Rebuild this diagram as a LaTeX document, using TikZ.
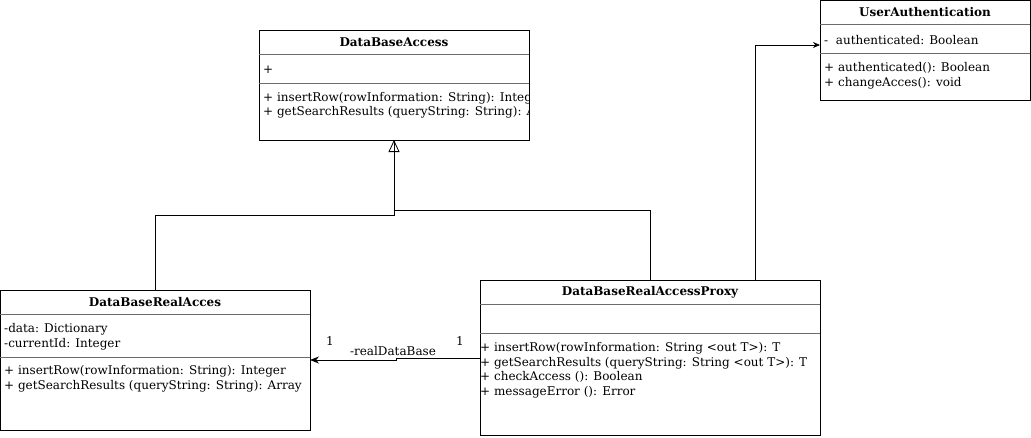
\documentclass[tikz,border=0pt]{standalone}
\usepackage{fontspec}
\setmainfont{DejaVu Serif}
\usetikzlibrary{arrows.meta,calc}
\begin{document}
\begin{tikzpicture}[x=1pt,y=-1pt,
  cls/.style={draw=black,line width=0.8pt,fill=white,anchor=north west,inner sep=0pt,outer sep=0pt},
  sep/.style={draw=gray!85!black,line width=0.8pt},
  ttl/.style={font=\fontsize{12}{14.5}\selectfont\bfseries,inner sep=0pt},
  txt/.style={font=\fontsize{12}{14.5}\selectfont,inner sep=0pt,anchor=west,align=left},
  lbl/.style={font=\fontsize{12}{14.5}\selectfont,inner sep=0pt},
  con/.style={draw=black,line width=0.8pt}]
\useasboundingbox (0,0) rectangle (1031,437);
\fill[white] (0,0) rectangle (1031,437);

% DataBaseAccess
\node[cls,minimum width=270pt,minimum height=110pt] (dba) at (259,30) {};
\draw[sep] (259,54) -- (529,54);
\draw[sep] (259,83) -- (529,83);
\node[ttl] (dbat) at (394,42) {DataBaseAccess};
\begin{scope}
\clip (259,30) rectangle (529,140);
\node[txt] (dbaa) at (263,70) {+};
\node[txt] (dbam) at (263,105.5) {+ insertRow(rowInformation: String): Integer\\+ getSearchResults (queryString: String): Array};
\end{scope}

% UserAuthentication
\node[cls,minimum width=210pt,minimum height=100pt] (ua) at (820,0) {};
\draw[sep] (820,24) -- (1030,24);
\draw[sep] (820,53) -- (1030,53);
\node[ttl] (uat) at (925,12) {UserAuthentication};
\node[txt] (uaa) at (824,40) {-\ \ authenticated: Boolean};
\node[txt] (uam) at (824,76) {+ authenticated(): Boolean\\+ changeAcces(): void};

% DataBaseRealAcces
\node[cls,minimum width=310pt,minimum height=140pt] (dbr) at (0,290) {};
\draw[sep] (0,314) -- (310,314);
\draw[sep] (0,357) -- (310,357);
\node[ttl] (dbrt) at (155,302) {DataBaseRealAcces};
\node[txt] (dbra) at (4,337) {-data: Dictionary\\-currentId: Integer};
\node[txt] (dbrm) at (4,379) {+ insertRow(rowInformation: String): Integer\\+ getSearchResults (queryString: String): Array};

% DataBaseRealAccessProxy
\node[cls,minimum width=340pt,minimum height=155pt] (prx) at (480,280) {};
\draw[sep] (480,304) -- (820,304);
\draw[sep] (480,333) -- (820,333);
\node[ttl] (prxt) at (650,292) {DataBaseRealAccessProxy};
\node[txt] (prxm) at (480,370.5) {+ insertRow(rowInformation: String <out T>): T\\+ getSearchResults (queryString: String <out T>): T\\+ checkAccess (): Boolean\\+ messageError (): Error};

% inheritance
\draw[con] (dbr.north) -- ++(0,-75) -| (dba.south);
\draw[con,-{Triangle[open,width=11pt,length=12pt]}] (prx.north) -- ++(0,-70) -| (dba.south);

% proxy -> user authentication
\coordinate (uain) at (820,45);
\draw[con,-{Stealth[width=6pt,length=7pt]}] ($(prx.north)+(105,0)$) |- (uain);

% association
\coordinate (asA) at (480,358);
\coordinate (asB) at (310,360);
\draw[con,-{Stealth[width=7pt,length=9pt]}] (asA) -- (396,358) -- (396,360) -- (asB);
\node[lbl] (asl) at (393,351) {-realDataBase};
\node[lbl] (m1) at (330,341) {1};
\node[lbl] (m2) at (460,341) {1};
\end{tikzpicture}
\end{document}
